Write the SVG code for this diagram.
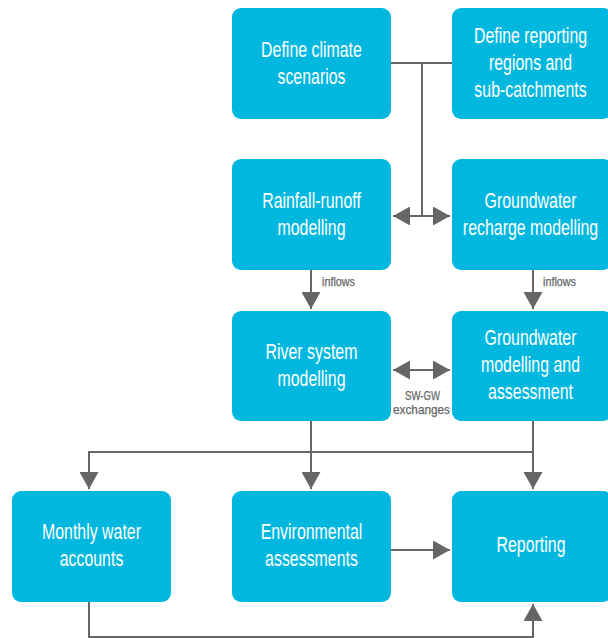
<svg xmlns="http://www.w3.org/2000/svg" width="608" height="638" viewBox="0 0 608 638">
<defs>
<style>
.box{fill:#00B8DF;}
.t{fill:#fff;font-family:"Liberation Sans",Arial,sans-serif;font-size:21.5px;text-anchor:middle;}
.c{stroke:#666;stroke-width:2;fill:none;}
.l{fill:#666;font-family:"Liberation Sans",Arial,sans-serif;font-size:12.5px;stroke:#666;stroke-width:0.25;}
</style>
<marker id="ah2" viewBox="0 0 10 10" refX="10" refY="5" markerWidth="17" markerHeight="19" markerUnits="userSpaceOnUse" orient="auto-start-reverse" preserveAspectRatio="none">
<path d="M0,0 L10,5 L0,10 Z" fill="#666"/>
</marker>
</defs>
<g id="connectors">
<path class="c" d="M391,63 H452"/>
<path class="c" d="M422,63 V216"/>
<path class="c" d="M393,216 H450" marker-start="url(#ah2)" marker-end="url(#ah2)"/>
<path class="c" d="M311,270 V309" marker-end="url(#ah2)"/>
<path class="c" d="M533,270 V309" marker-end="url(#ah2)"/>
<path class="c" d="M393,370 H450" marker-start="url(#ah2)" marker-end="url(#ah2)"/>
<path class="c" d="M311,421 V489" marker-end="url(#ah2)"/>
<path class="c" d="M533,421 V489" marker-end="url(#ah2)"/>
<path class="c" d="M533,452 H89 V489" marker-end="url(#ah2)"/>
<path class="c" d="M391,550 H450" marker-end="url(#ah2)"/>
<path class="c" d="M89,601 V637 H533 V604" marker-end="url(#ah2)"/>
<text class="l" x="322" y="285.5" textLength="33" lengthAdjust="spacingAndGlyphs">inflows</text>
<text class="l" x="543" y="285.5" textLength="33" lengthAdjust="spacingAndGlyphs">inflows</text>
<text class="l" x="405" y="399.5" textLength="35" lengthAdjust="spacingAndGlyphs">SW-GW</text>
<text class="l" x="393" y="413.5" textLength="57" lengthAdjust="spacingAndGlyphs">exchanges</text>
</g>
<g id="climate">
<rect class="box" x="232" y="8" width="159" height="111" rx="9"/>
<text class="t" transform="translate(311.5,57) scale(0.74,1)">Define climate</text>
<text class="t" transform="translate(311.5,84) scale(0.74,1)">scenarios</text>
</g>
<g id="regions">
<rect class="box" x="452" y="8" width="160" height="111" rx="9"/>
<text class="t" transform="translate(530.5,43) scale(0.74,1)">Define reporting</text>
<text class="t" transform="translate(530.5,70) scale(0.74,1)">regions and</text>
<text class="t" transform="translate(530.5,97) scale(0.74,1)">sub-catchments</text>
</g>
<g id="rainfall">
<rect class="box" x="232" y="159" width="159" height="111" rx="9"/>
<text class="t" transform="translate(311.5,208) scale(0.74,1)">Rainfall-runoff</text>
<text class="t" transform="translate(311.5,235) scale(0.74,1)">modelling</text>
</g>
<g id="recharge">
<rect class="box" x="452" y="159" width="160" height="111" rx="9"/>
<text class="t" transform="translate(530.5,208) scale(0.74,1)">Groundwater</text>
<text class="t" transform="translate(530.5,235) scale(0.74,1)">recharge modelling</text>
</g>
<g id="river">
<rect class="box" x="232" y="311" width="159" height="110" rx="9"/>
<text class="t" transform="translate(311.5,359) scale(0.74,1)">River system</text>
<text class="t" transform="translate(311.5,386) scale(0.74,1)">modelling</text>
</g>
<g id="groundwater">
<rect class="box" x="452" y="311" width="160" height="110" rx="9"/>
<text class="t" transform="translate(530.5,345) scale(0.74,1)">Groundwater</text>
<text class="t" transform="translate(530.5,372) scale(0.74,1)">modelling and</text>
<text class="t" transform="translate(530.5,399) scale(0.74,1)">assessment</text>
</g>
<g id="monthly">
<rect class="box" x="12" y="491" width="159" height="111" rx="9"/>
<text class="t" transform="translate(91.5,539) scale(0.74,1)">Monthly water</text>
<text class="t" transform="translate(91.5,566) scale(0.74,1)">accounts</text>
</g>
<g id="environmental">
<rect class="box" x="232" y="491" width="159" height="111" rx="9"/>
<text class="t" transform="translate(311.5,539) scale(0.74,1)">Environmental</text>
<text class="t" transform="translate(311.5,566) scale(0.74,1)">assessments</text>
</g>
<g id="reporting">
<rect class="box" x="452" y="491" width="160" height="111" rx="9"/>
<text class="t" transform="translate(531,552) scale(0.74,1)">Reporting</text>
</g>
</svg>
